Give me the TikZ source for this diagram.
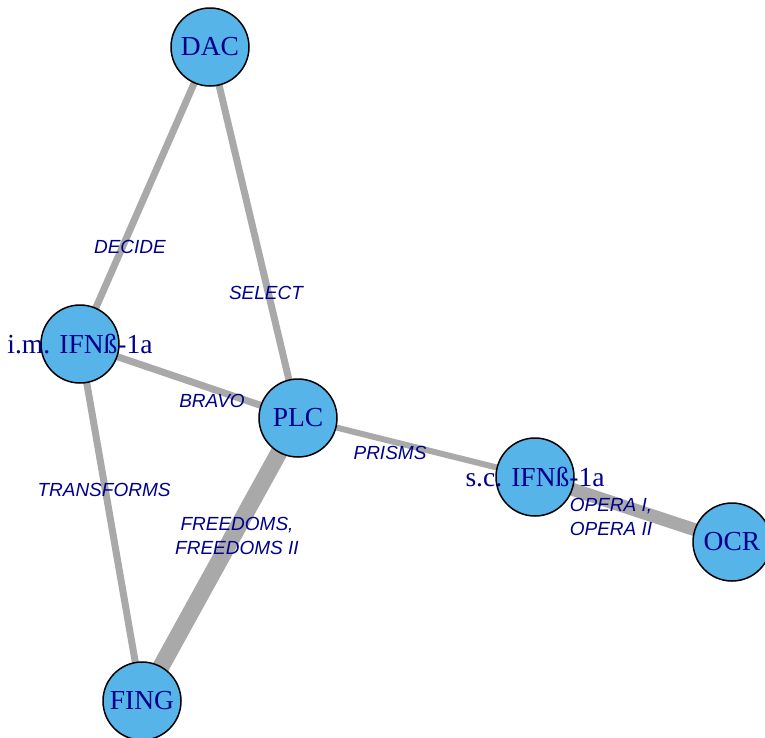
\documentclass[tikz,border=0pt]{standalone}
\usepackage{fontspec}
\setmainfont{Liberation Serif}
\newfontfamily\edgefont{Liberation Sans}
\definecolor{nodefill}{RGB}{86,180,233}
\definecolor{edgegray}{RGB}{169,169,169}
\definecolor{labelblue}{RGB}{0,0,139}
\begin{document}
\begin{tikzpicture}[x=1pt,y=-1pt,
  vertex/.style={circle,draw=black,line width=1.5pt,fill=nodefill,minimum size=78pt,inner sep=0pt},
  vname/.style={text=labelblue,font=\fontsize{27.5}{30}\selectfont,inner sep=0pt},
  link/.style={draw=edgegray,line width=#1},
  elabel/.style={text=labelblue,font=\edgefont\itshape\fontsize{19}{24}\selectfont,align=center,inner sep=0pt}]
\useasboundingbox (0,0) rectangle (765,737);

% vertices
\coordinate (pDAC) at (210,47);
\coordinate (pIM)  at (80,344);
\coordinate (pPLC) at (298,418);
\coordinate (pSC)  at (535,477);
\coordinate (pOCR) at (732,542);
\coordinate (pFING) at (142,701);

% edges (width ~ number of trials)
\draw[link=7pt]  (pDAC) -- (pIM);
\draw[link=7pt]  (pDAC) -- (pPLC);
\draw[link=7pt]  (pIM) -- (pPLC);
\draw[link=7pt]  (pIM) -- (pFING);
\draw[link=17pt] (pPLC) -- (pFING);
\draw[link=6pt]  (pPLC) -- (pSC);
\draw[link=13pt] (pSC) -- (pOCR);

% circles
\node[vertex] (DAC)  at (pDAC) {};
\node[vertex] (IM)   at (pIM) {};
\node[vertex] (PLC)  at (pPLC) {};
\node[vertex] (SC)   at (pSC) {};
\node[vertex] (OCR)  at (pOCR) {};
\node[vertex] (FING) at (pFING) {};

% vertex names
\node[vname] (tDAC)  at (DAC.center)  {DAC};
\node[vname] (tIM)   at (IM.center)   {i.m. IFNß-1a};
\node[vname] (tPLC)  at (PLC.center)  {PLC};
\node[vname] (tSC)   at (SC.center)   {s.c. IFNß-1a};
\node[vname] (tOCR)  at (OCR.center)  {OCR};
\node[vname] (tFING) at (FING.center) {FING};

% trial names on the edges
\node[elabel] (lDECIDE)     at (130,247) {DECIDE};
\node[elabel] (lSELECT)     at (266,293) {SELECT};
\node[elabel] (lBRAVO)      at (212,401) {BRAVO};
\node[elabel] (lPRISMS)     at (390,453) {PRISMS};
\node[elabel] (lTRANSFORMS) at (104,490) {TRANSFORMS};
\node[elabel] (lFREEDOMS)   at (237,536) {FREEDOMS,\\FREEDOMS II};
\node[elabel] (lOPERA)      at (611,517) {OPERA I,\\OPERA II};
\end{tikzpicture}
\end{document}
